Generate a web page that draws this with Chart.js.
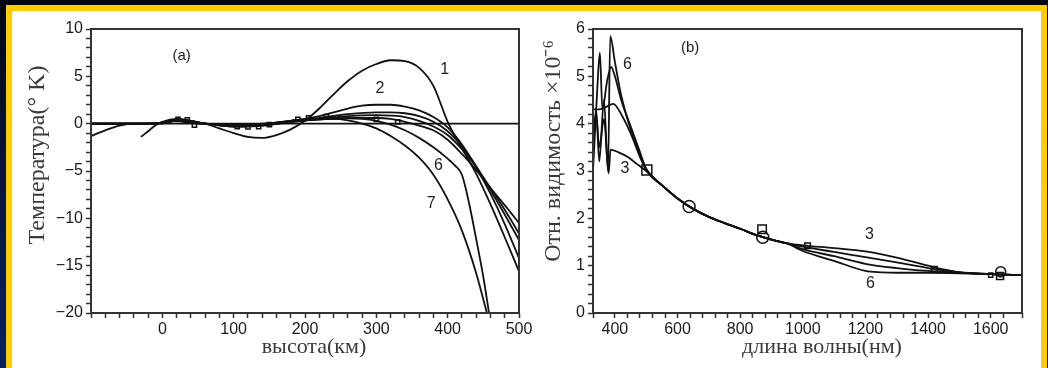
<!DOCTYPE html>
<html><head><meta charset="utf-8">
<script src="https://cdn.jsdelivr.net/npm/chart.js@4.4.1/dist/chart.umd.min.js"></script>
<style>
html,body{margin:0;padding:0;width:1048px;height:368px;overflow:hidden;background:linear-gradient(180deg,#02060f 0%,#061230 35%,#0b215f 100%);}
#frame{position:absolute;left:6px;top:5px;width:1041px;height:380px;box-sizing:border-box;background:#fff;border:6px solid #ffcc00;border-bottom:none;}
canvas{position:absolute;left:0;top:0;}
</style></head><body>
<div id="frame"></div>
<canvas id="ca" width="1048" height="368"></canvas>
<canvas id="cb" width="1048" height="368"></canvas>
<script>
// ---------- Panel (a): temperature vs height ----------
const a1X = [-100,-80,-60,-40,-20,0,20,40,60,80,100,120,140,160,180,200,220,240,260,280,300,320,340,360,380,400,420,440,460,480,500];
const a1Y = [-1.3,-0.7,-0.2,0,0,0.1,0.4,0.3,0,-0.5,-1.0,-1.4,-1.5,-1.2,-0.6,0.3,1.6,3.1,4.5,5.6,6.3,6.7,6.6,5.9,4.0,0.2,-2.6,-5.3,-8.5,-12.0,-15.6];
const a2X = [-30,-20,-10,0,20,40,60,80,100,120,140,160,180,200,220,240,260,280,300,320,340,360,380,400,420,440,460,480,500];
const a2Y = [-1.4,-0.8,-0.2,0.2,0.5,0.3,0,-0.1,-0.2,-0.2,-0.1,0.1,0.3,0.5,0.8,1.2,1.6,1.9,2.0,2.0,1.8,1.4,0.7,-0.4,-2.2,-4.6,-7.4,-10.6,-14.2];
const a3X = [-100,-60,-20,0,20,40,60,100,140,180,220,260,300,320,340,360,380,400,420,440,460,480,500];
const a3Y = [0,0,0,0.1,0.45,0.3,0,-0.1,0,0.3,0.6,1.0,1.2,1.2,1.1,0.8,0.2,-0.8,-2.4,-4.5,-7.0,-9.6,-12.3];
const a4X = [-100,-60,-20,0,20,40,60,100,140,180,220,260,300,320,340,360,380,400,420,440,460,480,500];
const a4Y = [0,0,0,0.1,0.4,0.2,0,-0.2,-0.1,0.3,0.5,0.8,0.9,0.85,0.7,0.3,-0.3,-1.2,-2.7,-4.6,-6.8,-9.1,-11.6];
const a5X = [-100,-60,-20,0,20,40,60,100,140,180,220,260,300,320,340,360,380,400,420,440,460,480,500];
const a5Y = [0,0,0,0.1,0.35,0.15,0,-0.25,-0.15,0.2,0.45,0.6,0.6,0.5,0.2,-0.2,-0.7,-1.7,-3.2,-4.9,-6.8,-8.6,-10.5];
const a6X = [-100,-60,-20,0,20,40,60,100,140,180,220,260,280,300,320,340,360,380,400,410,420,430,440,450,458];
const a6Y = [0,0,0,0.05,0.3,0.1,0,-0.3,-0.2,0.2,0.45,0.55,0.5,0.3,-0.1,-0.7,-1.5,-2.5,-3.7,-4.4,-5.4,-8.4,-12.2,-16.2,-20];
const a7X = [-100,-60,-20,0,20,40,60,100,140,180,220,240,260,280,300,320,340,360,380,400,420,440,455];
const a7Y = [0,0,0,0,0.3,0.05,0,-0.3,-0.2,0.2,0.45,0.5,0.35,0,-0.5,-1.3,-2.3,-3.6,-5.4,-8.0,-11.3,-15.8,-20];
const aZeroX = [-100,500];
const aZeroY = [0,0];
const aSqX = [22,35,45,105,120,135,150,190,205,230,300,330];
const aSqY = [0.45,0.4,-0.15,-0.3,-0.35,-0.3,-0.1,0.45,0.6,0.75,0.45,0.2];
const aLabText = ['1','2','6','7'];
const aLabX = [396,305,387,377];
const aLabY = [5.7,3.7,-4.4,-8.4];

// ---------- Panel (b): relative visibility vs wavelength ----------
const b3X = [330,340,350,365,380,386,410,440,470,500,550,600,650,700,750,800,850,900,950,1000,1100,1200,1300,1400,1450,1500,1600,1700];
const b3Y = [3.6,4.2,3.5,4.1,2.95,3.45,3.4,3.3,3.15,3.0,2.7,2.42,2.2,2.03,1.9,1.78,1.65,1.55,1.47,1.43,1.37,1.30,1.17,1.0,0.92,0.86,0.82,0.8];
const b4X = [330,350,370,395,420,450,480,500,550,600,650,700,750,800,850,900,950,1000,1100,1200,1300,1400,1450,1500,1600,1700];
const b4Y = [4.3,4.3,4.35,4.42,4.2,3.8,3.3,3.02,2.7,2.42,2.2,2.03,1.9,1.78,1.65,1.55,1.47,1.40,1.29,1.18,1.07,0.95,0.9,0.86,0.82,0.8];
const b5X = [330,345,352,360,375,388,400,420,450,480,500,550,600,650,700,750,800,850,900,950,1000,1100,1200,1300,1400,1450,1500,1600,1700];
const b5Y = [3.0,4.9,5.5,4.3,4.9,5.2,5.0,4.5,3.95,3.4,3.03,2.7,2.42,2.2,2.03,1.9,1.78,1.65,1.55,1.47,1.35,1.2,1.04,0.95,0.89,0.87,0.86,0.82,0.8];
const b6X = [330,340,350,365,378,385,400,420,440,460,480,500,550,600,650,700,750,800,850,900,950,1000,1100,1200,1250,1300,1400,1500,1600,1700];
const b6Y = [3.5,4.3,3.2,4.5,3.0,5.85,5.3,4.6,4.1,3.7,3.35,3.05,2.7,2.42,2.2,2.03,1.9,1.78,1.65,1.55,1.47,1.31,1.1,0.89,0.86,0.85,0.85,0.84,0.82,0.8];
const bSqX = [502,870,1015,1420,1630,1600];
const bSqY = [3.02,1.77,1.42,0.92,0.78,0.8];
const bSqR = [7,6,4,4,5,3];
const bCircX = [637,872,1632];
const bCircY = [2.25,1.6,0.87];
const bCircR = [6,6,5];
const bLabText = ['6','3','3','6'];
const bLabX = [440,432,1213,1216];
const bLabY = [5.24,3.06,1.65,0.63];

// ---------- helpers ----------
Chart.defaults.font.family = "'Liberation Sans', Arial, sans-serif";
const pts = (xs, ys) => xs.map((x, i) => ({x, y: ys[i]}));
const fmt = v => (v < 0 ? '\u2212' + Math.abs(v) : String(v));
const INK = '#111';

function curve(xs, ys) {
  return {data: pts(xs, ys), showLine: true, borderColor: INK, borderWidth: 1.8,
          pointRadius: 0, cubicInterpolationMode: 'monotone', fill: false};
}
function markers(xs, ys, style, r) {
  return {data: pts(xs, ys), showLine: false, pointStyle: style,
          pointRadius: r, borderColor: INK, borderWidth: 1.5,
          backgroundColor: 'rgba(0,0,0,0)'};
}
const framePlugin = {id: 'frameBox', afterDatasetsDraw(chart) {
  const {ctx, chartArea: a} = chart;
  ctx.save(); ctx.strokeStyle = '#333'; ctx.lineWidth = 2;
  ctx.strokeRect(a.left, a.top, a.right - a.left, a.bottom - a.top); ctx.restore();
}};
function textPlugin(items) {
  return {id: 'texts', afterDraw(chart) {
    const ctx = chart.ctx;
    items.forEach(it => {
      let x = it.x, y = it.y;
      if (it.data) { x = chart.scales.x.getPixelForValue(it.x); y = chart.scales.y.getPixelForValue(it.y); }
      ctx.save(); ctx.font = it.font; ctx.fillStyle = it.color || '#222';
      ctx.textAlign = 'center'; ctx.textBaseline = 'middle';
      ctx.translate(x, y); if (it.rot) ctx.rotate(it.rot);
      ctx.fillText(it.text, 0, 0); ctx.restore();
    });
  }};
}
function axis(min, max, step, labelFn, isY, size) {
  return {type: 'linear', min, max,
    afterFit: s => { if (isY) s.width = size; else s.height = size; },
    border: {display: false},
    grid: {display: true, drawOnChartArea: false, drawTicks: true, tickLength: 5, tickWidth: 1.5, tickColor: '#333'},
    ticks: {stepSize: step, autoSkip: false, maxRotation: 0, padding: isY ? 3 : 2,
      color: '#1a1a1a', font: {size: 16}, callback: labelFn}};
}
const near = (v, m) => Math.abs(v / m - Math.round(v / m)) < 1e-6;

// ---------- Chart (a) ----------
const aDatasets = [a1X, a2X, a3X, a4X, a5X, a6X, a7X].map((xs, i) =>
  curve(xs, [a1Y, a2Y, a3Y, a4Y, a5Y, a6Y, a7Y][i]));
aDatasets.push(curve(aZeroX, aZeroY));
aDatasets.push(markers(aSqX, aSqY, 'rect', 3));
const aItems = aLabText.map((t, i) => ({text: t, x: aLabX[i], y: aLabY[i], data: true, font: '16px "Liberation Sans"'}));
aItems.push({text: '(a)', x: 27, y: 7.2, data: true, font: '15px "Liberation Sans"'});
aItems.push({text: 'высота(км)', x: 314, y: 347, font: '22px "Liberation Serif"', color: '#3a3a3a'});
aItems.push({text: 'Температура(° K)', x: 38, y: 155, rot: -Math.PI / 2, font: '24px "Liberation Serif"', color: '#3a3a3a'});

new Chart(document.getElementById('ca'), {
  type: 'scatter',
  data: {datasets: aDatasets},
  options: {responsive: false, animation: false, events: [],
    layout: {padding: {left: 0, top: 29, right: 529, bottom: 0}},
    plugins: {legend: {display: false}, tooltip: {enabled: false}},
    scales: {
      x: axis(-100, 500, 20, v => (near(v, 100) && v > -100) ? fmt(v) : '', false, 55),
      y: axis(-20, 10, 1, v => near(v, 5) ? fmt(Math.round(v)) : '', true, 91)
    }},
  plugins: [framePlugin, textPlugin(aItems)]
});

// ---------- Chart (b) ----------
const bDatasets = [curve(b3X, b3Y), curve(b4X, b4Y), curve(b5X, b5Y), curve(b6X, b6Y)];
bSqX.forEach((x, i) => bDatasets.push(markers([x], [bSqY[i]], 'rect', bSqR[i])));
bCircX.forEach((x, i) => bDatasets.push(markers([x], [bCircY[i]], 'circle', bCircR[i])));
const bItems = bLabText.map((t, i) => ({text: t, x: bLabX[i], y: bLabY[i], data: true, font: '16px "Liberation Sans"'}));
bItems.push({text: '(b)', x: 640, y: 5.6, data: true, font: '15px "Liberation Sans"'});
bItems.push({text: 'длина волны(нм)', x: 822, y: 347, font: '22px "Liberation Serif"', color: '#3a3a3a'});
bItems.push({text: 'Отн. видимость ×10⁻⁶', x: 554, y: 151, rot: -Math.PI / 2, font: '24px "Liberation Serif"', color: '#3a3a3a'});

new Chart(document.getElementById('cb'), {
  type: 'scatter',
  data: {datasets: bDatasets},
  options: {responsive: false, animation: false, events: [],
    layout: {padding: {left: 520, top: 29, right: 26, bottom: 0}},
    plugins: {legend: {display: false}, tooltip: {enabled: false}},
    scales: {
      x: axis(330, 1700, 40, v => (near(v, 200) && v >= 400 && v <= 1600) ? String(v) : '', false, 55),
      y: axis(0, 6, 0.2, v => near(v, 1) ? String(Math.round(v)) : '', true, 73)
    }},
  plugins: [framePlugin, textPlugin(bItems)]
});
</script></body></html>
